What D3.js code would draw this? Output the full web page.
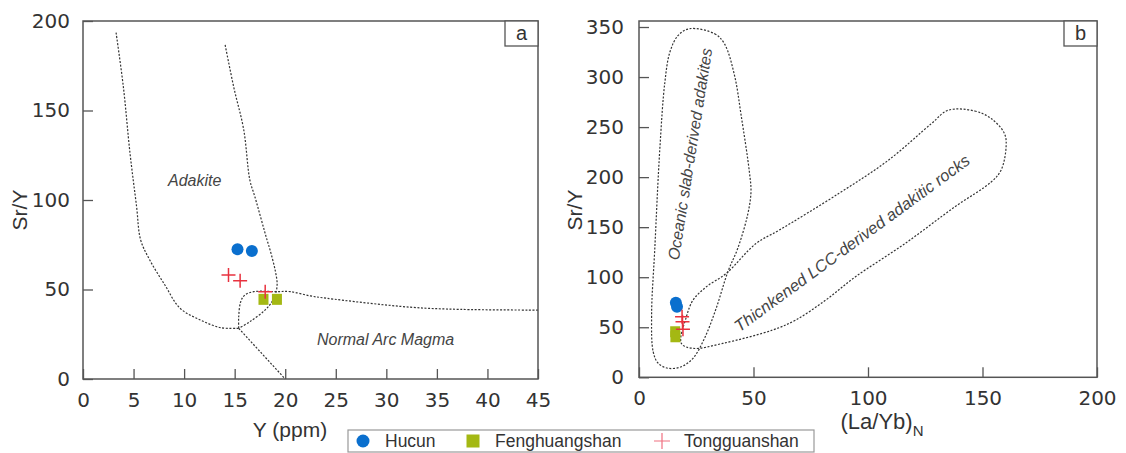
<!DOCTYPE html>
<html>
<head>
<meta charset="utf-8">
<script src="https://cdn.jsdelivr.net/npm/d3@7"></script>
<style>
body { margin: 0; background: #fff; }
svg { font-family: "Liberation Sans", Arial, sans-serif; }
</style>
</head>
<body>
<script>
// ---- panel a : Sr/Y vs Y (ppm)
var xTicksA = [0, 5, 10, 15, 20, 25, 30, 35, 40, 45];
var yTicksA = [0, 50, 100, 150, 200];
var hucunA = [[15.28, 72.5], [16.7, 71.5]];
var fengA = [[17.85, 44.5], [19.18, 44.5]];
var tongA = [[14.39, 58.1], [15.54, 54.9], [18.02, 48.8]];

// field boundaries
var adakiteLeft = [[3.27,193.5],[3.99,163.3],[4.65,126.1],[5.3,96.3],[5.7,77.7],[6.6,66.5],[8.1,52.5],[9.6,39.5],[11.6,33],[13.6,28.7],[15.4,28.3]];
var adakiteRight = [[14.06,186.6],[14.9,163.3],[15.9,139.1],[16.5,111.2],[17.0,101.8],[18.2,77.7],[18.5,72.1],[19.0,60.9],[19.2,53.5],[19.1,48.8],[18.7,43.2],[18.0,38.5],[16.5,32],[15.4,28.3]];
var arcUpper = [[45,38.5],[37.3,38.9],[32.4,40.1],[24.1,45.1],[22.5,46.4],[20.5,48.8],[19.1,48.8],[16.9,48.8],[16.0,46.9],[15.6,43.2],[15.4,34.8],[15.4,28.3]];
var arcDiagonal = [[15.4,28.3],[20,0]];

// ---- panel b : Sr/Y vs (La/Yb)N
var xTicksB = [0, 50, 100, 150, 200];
var yTicksB = [0, 50, 100, 150, 200, 250, 300, 350];
var hucunB = [[16.1, 74.4], [16.6, 70.4]];
var fengB = [[15.8, 45.5], [15.9, 40.5]];
var tongB = [[18.8, 60.5], [19.0, 55.5], [19.2, 47.9]];

var oceanicField = [[22.1,348.3],[33.0,343.3],[37.3,333.3],[41.7,301.7],[44.6,261.8],[48.2,205.2],[48.9,185.2],[47.4,162.0],[43.1,128.7],[38.8,105.4],[33.7,68.9],[28.6,38.9],[23.6,19.0],[18.5,10.6],[12.7,9.0],[8.4,14.0],[6.2,25.5],[5.5,62.2],[6.9,128.7],[9.1,228.5],[11.3,295.0],[13.5,325.0],[17.1,341.6]];
var lccField = [[135.0,266.8],[146.6,266.1],[153.8,258.5],[159.6,243.5],[160.3,230.1],[158.1,206.9],[153.8,195.2],[137.9,170.3],[116.2,133.7],[94.5,100.4],[81.5,77.1],[68.4,57.2],[58.3,47.2],[36.6,33.9],[23.6,28.9],[18.5,33.9],[20.7,60.5],[23.6,77.1],[29.4,90.4],[38.1,103.8],[51.1,133.7],[61.2,147.0],[87.2,183.6],[108.9,216.9],[127.7,253.5]];

var seriesNames = ["Hucun", "Fenghuangshan", "Tongguanshan"];
var colors = {Hucun: "#0a6fce", Fenghuangshan: "#a4b813", Tongguanshan: "#e8323f"};

var svg = d3.select("body").append("svg")
    .attr("width", 1126)
    .attr("height", 453);

function panel(opt) {
    var g = svg.append("g");
    var x = opt.x, y = opt.y;
    var r = x.range(), t = y.range();

    // dashed field lines
    opt.lines.forEach(function(l) {
        var line = d3.line()
            .x(function(d) { return x(d[0]); })
            .y(function(d) { return y(d[1]); })
            .curve(l.closed ? d3.curveCatmullRomClosed.alpha(0.5) : d3.curveCatmullRom.alpha(0.5));
        g.append("path")
            .attr("d", line(l.pts))
            .attr("fill", "none")
            .attr("stroke", "#333")
            .attr("stroke-width", 1.2)
            .attr("stroke-dasharray", "2,1.6");
    });

    var xa = g.append("g")
        .attr("transform", "translate(0," + t[0] + ")")
        .call(d3.axisBottom(x).tickValues(opt.xTicks).tickSize(-10).tickPadding(14));
    var ya = g.append("g")
        .attr("transform", "translate(" + r[0] + ",0)")
        .call(d3.axisLeft(y).tickValues(opt.yTicks).tickSize(-10).tickPadding(opt.yPad));
    [xa, ya].forEach(function(a) {
        a.select(".domain").remove();
        a.selectAll("line").attr("stroke", "#555").attr("stroke-width", 1.3);
        a.selectAll("text").attr("font-size", 20).attr("fill", "#333")
            .attr("font-family", "'DejaVu Sans', sans-serif");
    });

    // frame
    g.append("rect")
        .attr("x", r[0]).attr("y", t[1])
        .attr("width", r[1] - r[0]).attr("height", t[0] - t[1])
        .attr("fill", "none").attr("stroke", "#555").attr("stroke-width", 1.5);

    // panel letter box
    g.append("rect")
        .attr("x", r[1] - 33).attr("y", t[1])
        .attr("width", 33).attr("height", 25)
        .attr("fill", "#fff").attr("stroke", "#555").attr("stroke-width", 1.3);
    g.append("text")
        .attr("x", r[1] - 16.5).attr("y", t[1] + 19)
        .attr("text-anchor", "middle")
        .attr("font-size", 20).attr("fill", "#333")
        .text(opt.letter);

    // data marks
    g.selectAll(".hucun").data(opt.hucun).enter().append("circle")
        .attr("cx", function(d) { return x(d[0]); })
        .attr("cy", function(d) { return y(d[1]); })
        .attr("r", 6)
        .attr("fill", colors.Hucun);
    g.selectAll(".feng").data(opt.feng).enter().append("rect")
        .attr("x", function(d) { return x(d[0]) - 5; })
        .attr("y", function(d) { return y(d[1]) - 5.5; })
        .attr("width", 10).attr("height", 11)
        .attr("fill", colors.Fenghuangshan);
    g.selectAll(".tong").data(opt.tong).enter().append("path")
        .attr("d", function(d) {
            var px = x(d[0]), py = y(d[1]);
            return "M" + (px - 7) + "," + py + "H" + (px + 7) + "M" + px + "," + (py - 7) + "V" + (py + 7);
        })
        .attr("stroke", colors.Tongguanshan)
        .attr("stroke-width", 1.5)
        .attr("fill", "none");
    return g;
}

var xA = d3.scaleLinear().domain([0, 45]).range([83, 538]);
var yA = d3.scaleLinear().domain([0, 200]).range([379, 21]);
var gA = panel({
    x: xA, y: yA, xTicks: xTicksA, yTicks: yTicksA, yPad: 13, letter: "a",
    hucun: hucunA, feng: fengA, tong: tongA,
    lines: [{pts: adakiteLeft}, {pts: adakiteRight}, {pts: arcUpper}, {pts: arcDiagonal}]
});

var xB = d3.scaleLinear().domain([0, 200]).range([639, 1097]);
var yB = d3.scaleLinear().domain([0, 356]).range([377.3, 21]);
var gB = panel({
    x: xB, y: yB, xTicks: xTicksB, yTicks: yTicksB, yPad: 15, letter: "b",
    hucun: hucunB, feng: fengB, tong: tongB,
    lines: [{pts: oceanicField, closed: true}, {pts: lccField, closed: true}]
});

// field names
gA.append("text").attr("x", 168).attr("y", 186)
    .attr("font-size", 16).attr("font-style", "italic").attr("fill", "#444")
    .text("Adakite");
gA.append("text").attr("x", 317).attr("y", 345)
    .attr("font-size", 16).attr("font-style", "italic").attr("fill", "#444")
    .text("Normal Arc Magma");
gB.append("text")
    .attr("transform", "translate(690,154) rotate(-81)")
    .attr("text-anchor", "middle").attr("dy", "0.35em")
    .attr("font-size", 16).attr("font-style", "italic").attr("fill", "#444")
    .text("Oceanic slab-derived adakites");
gB.append("text")
    .attr("transform", "translate(852,243) rotate(-36.2)")
    .attr("text-anchor", "middle").attr("dy", "0.35em")
    .attr("font-size", 16.5).attr("font-style", "italic").attr("fill", "#444")
    .text("Thicnkened LCC-derived adakitic rocks");

// axis titles
svg.append("text").attr("transform", "translate(27,210) rotate(-90)")
    .attr("text-anchor", "middle").attr("font-size", 21).attr("fill", "#333")
    .text("Sr/Y");
svg.append("text").attr("x", 290).attr("y", 437)
    .attr("text-anchor", "middle").attr("font-size", 21).attr("fill", "#333")
    .text("Y (ppm)");
svg.append("text").attr("transform", "translate(582,210) rotate(-90)")
    .attr("text-anchor", "middle").attr("font-size", 21).attr("fill", "#333")
    .text("Sr/Y");
var xtB = svg.append("text").attr("x", 882).attr("y", 429)
    .attr("text-anchor", "middle").attr("font-size", 22).attr("fill", "#333");
xtB.append("tspan").text("(La/Yb)");
xtB.append("tspan").attr("dy", 7).attr("font-size", 15).text("N");

// legend
var lg = svg.append("g");
lg.append("rect").attr("x", 348).attr("y", 430).attr("width", 466).attr("height", 22)
    .attr("fill", "#fff").attr("stroke", "#999").attr("stroke-width", 1.2);
var legendX = [363, 473, 662];
seriesNames.forEach(function(name, i) {
    var cx = legendX[i], cy = 441;
    if (i === 0) {
        lg.append("circle").attr("cx", cx).attr("cy", cy).attr("r", 6.5).attr("fill", colors[name]);
    } else if (i === 1) {
        lg.append("rect").attr("x", cx - 6.5).attr("y", cy - 6.5).attr("width", 13).attr("height", 13).attr("fill", colors[name]);
    } else {
        lg.append("path")
            .attr("d", "M" + (cx - 8) + "," + cy + "H" + (cx + 8) + "M" + cx + "," + (cy - 8) + "V" + (cy + 8))
            .attr("stroke", "#f07080").attr("stroke-width", 1.2);
    }
    lg.append("text").attr("x", cx + 22).attr("y", 447)
        .attr("font-size", 17.5).attr("fill", "#333")
        .text(name);
});
</script>
</body>
</html>
